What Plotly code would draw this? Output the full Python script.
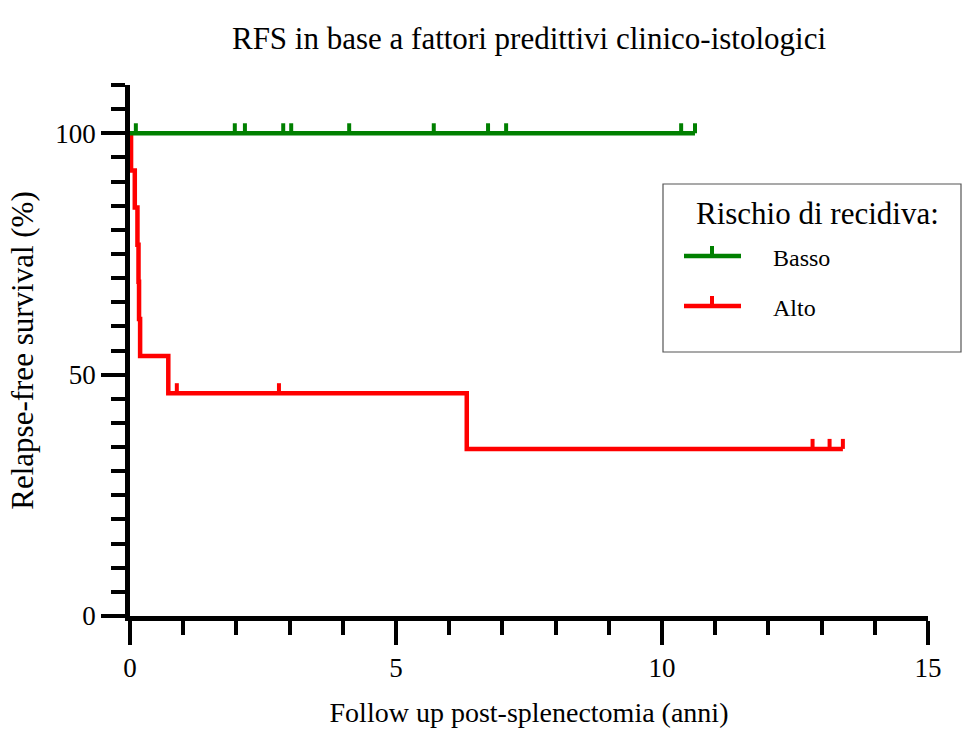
import plotly.graph_objects as go

# ---------------- data ----------------
group_names = ["Basso", "Alto"]
group_colors = ["#008000", "#ff0000"]

basso_event_times = []
basso_censor_times = [0.11, 1.97, 2.16, 2.88, 3.03, 4.12, 5.71, 6.73, 7.07, 10.36, 10.62]

alto_event_times = [0.02, 0.09, 0.14, 0.16, 0.17, 0.19, 0.72, 6.33]
alto_censor_times = [0.88, 2.80, 12.83, 13.15, 13.40]

title_text = "RFS in base a fattori predittivi clinico-istologici"
x_title = "Follow up post-splenectomia (anni)"
y_title = "Relapse-free survival (%)"
legend_title = "Rischio di recidiva:"

x_range = [0, 15]
y_range = [0, 110]
x_tickvals = [0, 5, 10, 15]
y_tickvals = [0, 50, 100]

FONT = "Liberation Serif, Times New Roman, serif"
W, H = 962, 731
ML, MR, MT, MB = 130, 34, 85, 115
PW, PH = W - ML - MR, H - MT - MB


def km(events, censors):
    times = sorted(set(events) | set(censors))
    n = len(events) + len(censors)
    s = 100.0
    xs, ys, cens = [0.0], [100.0], []
    for t in times:
        d = events.count(t)
        c = censors.count(t)
        if d:
            s *= (n - d) / n
            xs.append(t)
            ys.append(s)
        if c:
            cens.append((t, s))
        n -= d + c
    last = max(times)
    if xs[-1] != last:
        xs.append(last)
        ys.append(s)
    return xs, ys, cens


def px(xp):
    return (xp - ML) / PW


def py(yp):
    return (H - MB - yp) / PH


groups = [
    (basso_event_times, basso_censor_times),
    (alto_event_times, alto_censor_times),
]

fig = go.Figure()
shapes = []
annotations = []

# draw red first, green on top
for idx in [1, 0]:
    ev, ce = groups[idx]
    xs, ys, cens = km(ev, ce)
    col = group_colors[idx]
    fig.add_trace(go.Scatter(
        x=xs, y=ys, mode="lines", line=dict(color=col, width=4.5, shape="hv"),
        name=group_names[idx], showlegend=False, hoverinfo="skip"))
    for t, s in cens:
        shapes.append(dict(type="line", xref="x", yref="y", ysizemode="pixel",
                           yanchor=s, y0=0, y1=10, x0=t, x1=t,
                           line=dict(color=col, width=4)))

# ---------------- manual legend ----------------
shapes.append(dict(type="rect", xref="paper", yref="paper",
                   x0=px(663), x1=px(961), y0=py(352), y1=py(184),
                   line=dict(color="#555555", width=1.2), fillcolor="white", layer="above"))
annotations.append(dict(text=legend_title, xref="paper", yref="paper",
                        x=px(817), y=py(213), xanchor="center", yanchor="middle",
                        showarrow=False, font=dict(family=FONT, size=31, color="black")))
legend_y = [256, 306]
for idx in range(2):
    yy = legend_y[idx]
    col = group_colors[idx]
    shapes.append(dict(type="line", xref="paper", yref="paper",
                       x0=px(684), x1=px(741), y0=py(yy), y1=py(yy),
                       line=dict(color=col, width=4.5)))
    shapes.append(dict(type="line", xref="paper", yref="paper",
                       x0=px(712), x1=px(712), y0=py(yy), y1=py(yy - 10),
                       line=dict(color=col, width=4)))
    annotations.append(dict(text=group_names[idx], xref="paper", yref="paper",
                            x=px(771), y=py(yy + 2), xanchor="left", yanchor="middle",
                            showarrow=False, font=dict(family=FONT, size=24, color="black")))

axis_common = dict(
    showgrid=False, zeroline=False, showline=True, linecolor="black", linewidth=4.5,
    ticks="outside", tickcolor="black", tickwidth=4, ticklen=24,
    tickfont=dict(family=FONT, size=27, color="black"),
    layer="below traces", automargin=False,
)

fig.update_layout(
    width=W, height=H,
    margin=dict(l=ML, r=MR, t=MT, b=MB, autoexpand=False),
    paper_bgcolor="white", plot_bgcolor="white",
    title=dict(text=title_text, x=0.5, xref="paper", xanchor="center",
               y=1 - 38 / H, yref="container", yanchor="middle",
               font=dict(family=FONT, size=31, color="black")),
    xaxis=dict(range=x_range, tickvals=x_tickvals,
               minor=dict(dtick=1, ticks="outside", ticklen=14, tickwidth=4, tickcolor="black"),
               title=dict(text=x_title, font=dict(family=FONT, size=28, color="black"), standoff=22),
               **axis_common),
    yaxis=dict(range=y_range, tickvals=y_tickvals,
               minor=dict(dtick=5, ticks="outside", ticklen=14, tickwidth=4, tickcolor="black"),
               title=dict(text=y_title, font=dict(family=FONT, size=31, color="black"), standoff=14),
               **axis_common),
    shapes=shapes,
    annotations=annotations,
    showlegend=False,
)

fig.write_html("out.html")
